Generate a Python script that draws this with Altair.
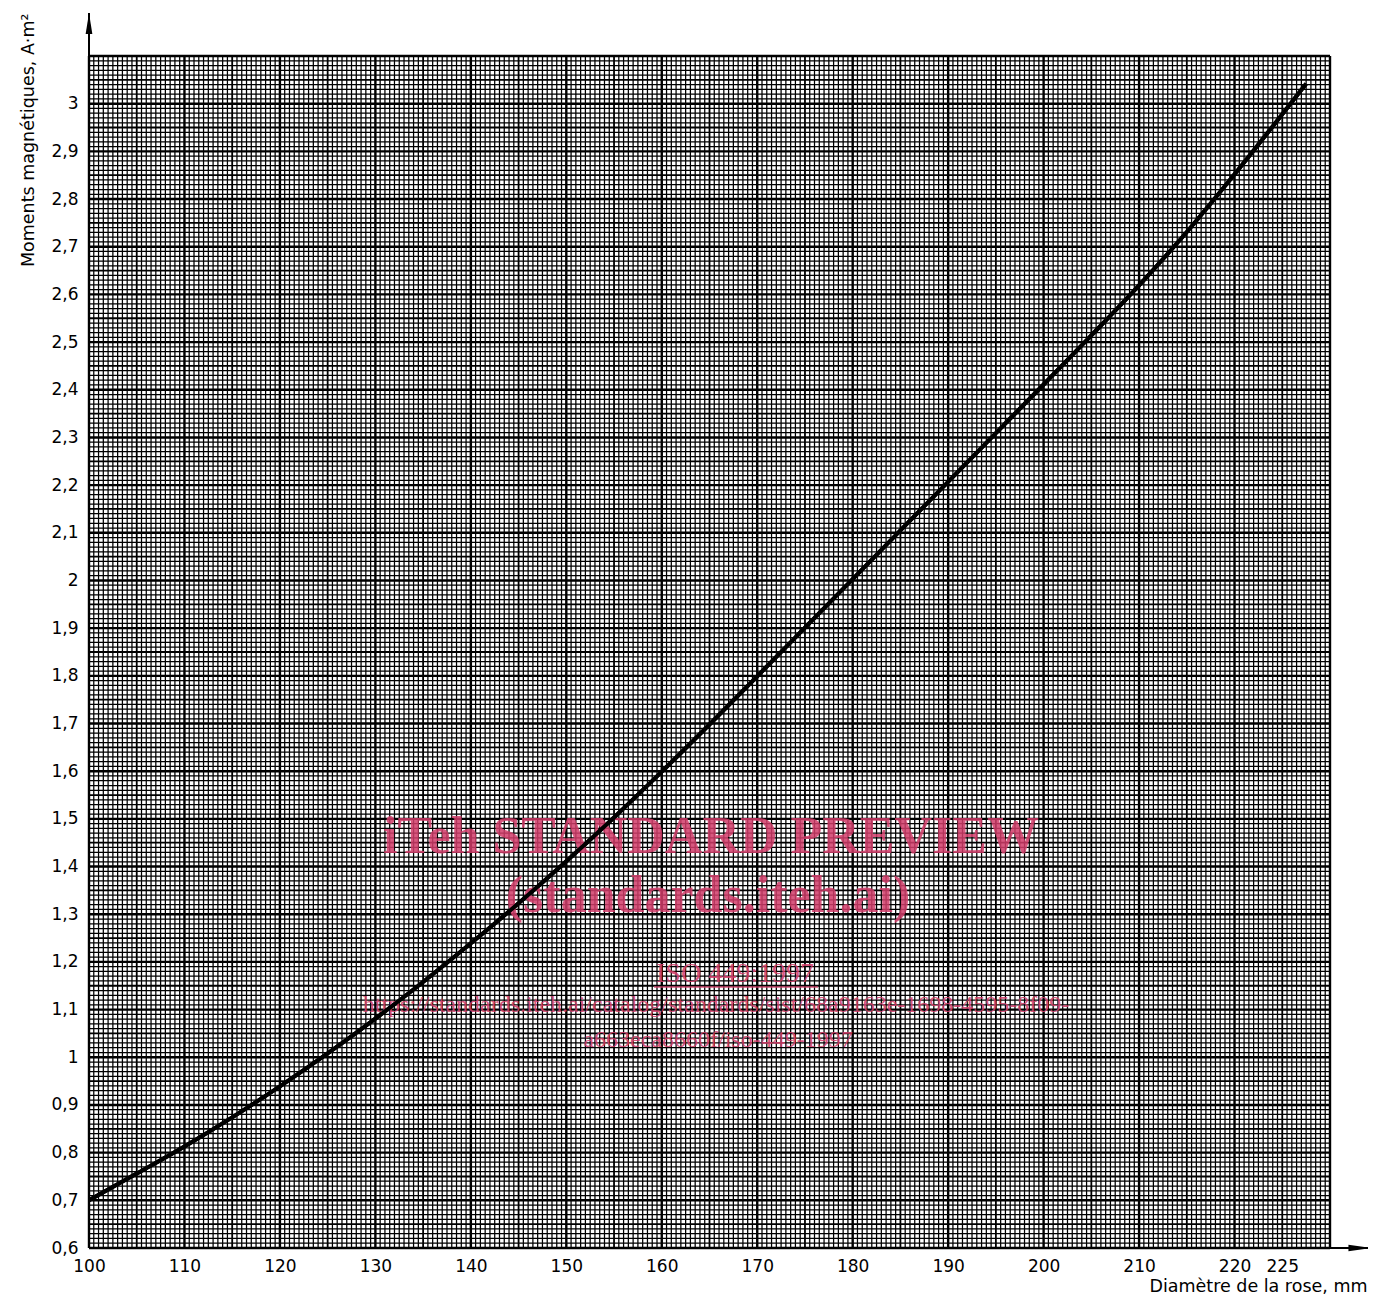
import altair as alt
import pandas as pd

# ---- data ----
diametre = [100, 105, 110, 115, 120, 125, 130, 135, 140, 145, 150, 155, 160,
            165, 170, 175, 180, 185, 190, 195, 200, 205, 210, 215, 220, 225, 227.5]
moment = [0.700, 0.756, 0.813, 0.874, 0.939, 1.008, 1.081, 1.158, 1.239, 1.323,
          1.411, 1.503, 1.599, 1.698, 1.799, 1.901, 2.003, 2.105, 2.207, 2.309,
          2.411, 2.514, 2.619, 2.731, 2.852, 2.978, 3.042]

x_ticks = [100, 110, 120, 130, 140, 150, 160, 170, 180, 190, 200, 210, 220, 225]
y_ticks = [0.6, 0.7, 0.8, 0.9, 1.0, 1.1, 1.2, 1.3, 1.4, 1.5, 1.6, 1.7, 1.8, 1.9,
           2.0, 2.1, 2.2, 2.3, 2.4, 2.5, 2.6, 2.7, 2.8, 2.9, 3.0]

X_MIN, X_MAX = 100, 230
Y_MIN, Y_MAX = 0.6, 3.1

# axis arrows (axis lines run past the grid)
X_ARROW_END, X_ARROW_MID = 234.2, 233.1
Y_ARROW_END, Y_ARROW_MID = 3.19, 3.168

watermark = [
    "iTeh STANDARD PREVIEW",
    "(standards.iteh.ai)",
    "ISO 449:1997",
    "https://standards.iteh.ai/catalog/standards/sist/68a9163e-1698-4595-8f09-",
    "a663eca8660f/iso-449-1997",
]

# ---- graph-paper grid positions (0.5 steps in x, 0.01 in y) ----
gx_fine, gx_mid, gx_bold = [], [], []
for i in range(0, 261):          # 100 .. 230 step 0.5
    v = X_MIN + i * 0.5
    if i % 20 == 0:
        gx_bold.append(v)
    elif i % 10 == 0:
        gx_mid.append(v)
    else:
        gx_fine.append(v)

gy_fine, gy_mid, gy_bold = [], [], []
for i in range(0, 251):          # 0.60 .. 3.10 step 0.01
    v = round(Y_MIN + i * 0.01, 4)
    if i % 10 == 0:
        gy_bold.append(v)
    elif i % 5 == 0:
        gy_mid.append(v)
    else:
        gy_fine.append(v)

xs = alt.Scale(domain=[X_MIN, X_MAX], nice=False, zero=False)
ys = alt.Scale(domain=[Y_MIN, Y_MAX], nice=False, zero=False)

FONT = "DejaVu Sans"

X_AXIS = alt.Axis(
    values=x_ticks, ticks=False, domain=False, grid=False,
    labelFlush=False, labelOverlap=False, labelPadding=10,
    labelFont=FONT, labelFontSize=17, labelColor="black",
    title="Diamètre de la rose, mm", titleFont=FONT, titleFontSize=17.5,
    titleFontWeight="normal", titleColor="black",
    titleX=1278, titleY=43, titleAlign="right", titleBaseline="alphabetic")
Y_AXIS = alt.Axis(
    values=y_ticks, ticks=False, domain=False, grid=False,
    labelExpr="replace(format(datum.value, '.1~f'), '.', ',')",
    labelPadding=11, labelFont=FONT, labelFontSize=17, labelColor="black",
    title="Moments magnétiques, A·m²", titleFont=FONT, titleFontSize=17.5,
    titleFontWeight="normal", titleColor="black",
    titleAngle=270, titleX=-56, titleY=-43, titleAlign="right",
    titleBaseline="alphabetic")


def X(field):
    return alt.X(field, scale=xs, axis=X_AXIS)


def Y(field):
    return alt.Y(field, scale=ys, axis=Y_AXIS)


def vrules(vals, w, op):
    return alt.Chart(pd.DataFrame({"v": vals})).mark_rule(
        color="black", strokeWidth=w, opacity=op
    ).encode(x=X("v:Q"))


def hrules(vals, w, op):
    return alt.Chart(pd.DataFrame({"v": vals})).mark_rule(
        color="black", strokeWidth=w, opacity=op
    ).encode(y=Y("v:Q"))


grid = [
    vrules(gx_fine, 1.25, 1.0), hrules(gy_fine, 1.25, 1.0),
    vrules(gx_mid, 1.8, 1.0), hrules(gy_mid, 1.8, 1.0),
    vrules(gx_bold, 2.4, 1.0), hrules(gy_bold, 2.4, 1.0),
]

axis_df = pd.DataFrame({
    "x": [X_MIN, X_MIN], "x2": [X_MIN, X_ARROW_END],
    "y": [Y_MIN, Y_MIN], "y2": [Y_ARROW_END, Y_MIN],
})
axis_lines = alt.Chart(axis_df).mark_rule(color="black", strokeWidth=2).encode(
    x=X("x:Q"), x2="x2:Q", y=Y("y:Q"), y2="y2:Q",
)

up_arrow = alt.Chart(pd.DataFrame({"x": [X_MIN], "y": [Y_ARROW_MID]})).mark_point(
    shape="M0,-1L0.32,1L-0.32,1Z", size=440, filled=True, color="black", opacity=1
).encode(x=X("x:Q"), y=Y("y:Q"))

right_arrow = alt.Chart(pd.DataFrame({"x": [X_ARROW_MID], "y": [Y_MIN]})).mark_point(
    shape="M1,0L-1,-0.3L-1,0.3Z", size=500, filled=True, color="black", opacity=1
).encode(x=X("x:Q"), y=Y("y:Q"))

curve = alt.Chart(pd.DataFrame({"d": diametre, "m": moment})).mark_line(
    color="black", strokeWidth=4, interpolate="monotone"
).encode(x=X("d:Q"), y=Y("m:Q"))

PINK = "#d23d6a"
wm_specs = [
    (watermark[0], 622, 797, 52, "bold"),
    (watermark[1], 619, 912 - 56, 52, "bold"),
    (watermark[2], 646, 982 - 56, 28, "normal"),
    (watermark[3], 627, 1012 - 56, 24, "normal"),
    (watermark[4], 629, 1047 - 56, 24, "normal"),
]
wm_layers = []
for txt, px, py, fs, fw in wm_specs:
    wm_layers.append(
        alt.Chart(pd.DataFrame({"t": [txt]})).mark_text(
            font="Liberation Serif", fontSize=fs, fontWeight=fw, color=PINK,
            opacity=0.85, align="center", baseline="alphabetic"
        ).encode(text="t:N", x=alt.value(px), y=alt.value(py))
    )
underline = alt.Chart(pd.DataFrame({"t": [watermark[2]]})).mark_rule(
    color=PINK, strokeWidth=1.5, opacity=0.85
).encode(x=alt.value(565), x2=alt.value(729), y=alt.value(931))

chart = alt.layer(
    curve, *grid, axis_lines, up_arrow, right_arrow, *wm_layers, underline,
    curve,
).properties(
    width=1241, height=1192,
    autosize=alt.AutoSizeParams(type="none"),
    padding={"left": 81, "top": 48, "right": 38, "bottom": 49},
    background="white",
).configure_view(stroke=None)

chart.save("out.html", embed_options={"renderer": "svg", "actions": False})
